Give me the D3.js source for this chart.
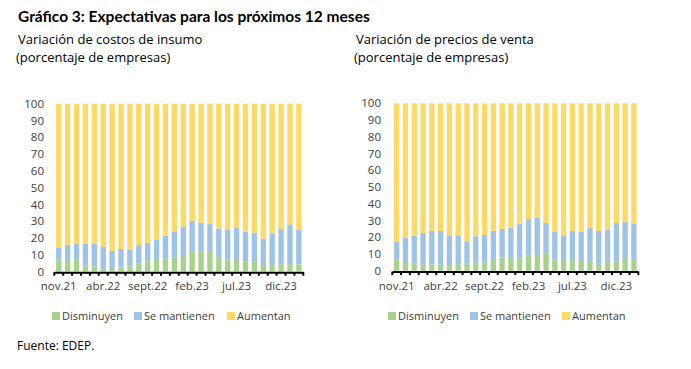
<!DOCTYPE html>
<html>
<head>
<meta charset="utf-8">
<script src="https://cdn.jsdelivr.net/npm/d3@7"></script>
<style>
  html, body { margin: 0; padding: 0; background: #fff; }
  svg { display: block; font-family: "Open Sans", Lato, sans-serif; }
</style>
</head>
<body>
<svg id="chart" width="691" height="369"></svg>
<script>
// ---- DATA ----
const months = ["nov.21","dic.21","ene.22","feb.22","mar.22","abr.22","may.22","jun.22","jul.22","ago.22",
  "sept.22","oct.22","nov.22","dic.22","ene.23","feb.23","mar.23","abr.23","may.23","jun.23",
  "jul.23","ago.23","sept.23","oct.23","nov.23","dic.23","ene.24","feb.24"];
const tickLabels = ["nov.21","abr.22","sept.22","feb.23","jul.23","dic.23"];
const seriesNames = ["Disminuyen","Se mantienen","Aumentan"];
const yTicks = [0,10,20,30,40,50,60,70,80,90,100];

// Variación de costos de insumo
const costosDisminuyen = [6.6,6.1,7.0,3.5,3.1,1.5,0.9,2.2,3.0,4.8,5.9,6.9,7.2,8.2,9.3,12.1,11.7,11.7,8.7,7.0,6.8,6.0,5.8,3.8,3.8,4.0,5.0,4.2];
const costosSeMantienen = [7.4,9.7,9.4,12.9,13.3,13.2,11.3,11.2,9.8,11.0,11.1,12.1,14.0,15.3,17.5,18.1,17.1,16.5,16.9,18.0,19.2,17.7,17.3,15.7,18.7,21.4,23.0,20.5];
const costosAumentan = [86.0,84.2,83.6,83.6,83.6,85.3,87.8,86.6,87.2,84.2,83.0,81.0,78.8,76.5,73.2,69.8,71.2,71.8,74.4,75.0,74.0,76.3,76.9,80.5,77.5,74.6,72.0,75.3];

// Variación de precios de venta
const preciosDisminuyen = [6.8,5.8,4.8,3.0,3.8,3.6,2.8,4.0,4.2,5.0,5.0,6.6,8.0,8.2,7.4,9.8,9.4,10.2,6.8,6.4,6.4,5.8,5.4,4.2,5.2,5.6,7.6,6.4];
const preciosSeMantienen = [10.4,13.8,16.0,19.6,20.0,20.2,18.4,17.2,13.4,15.6,16.4,17.2,17.0,17.6,20.5,21.1,22.1,18.3,16.4,14.4,17.4,17.4,20.1,19.6,19.2,22.9,21.7,21.5];
const preciosAumentan = [82.8,80.4,79.2,77.4,76.2,76.2,78.8,78.8,82.4,79.4,78.6,76.2,75.0,74.2,72.1,69.1,68.5,71.5,76.8,79.2,76.2,76.8,74.5,76.2,75.6,71.5,70.7,72.1];

const colors = ["#A9D18E","#9DC3E6","#FFD966"];
const axisTextColor = "#404040";

const svg = d3.select("#chart");

// Title (fit to the reference's width)
const title = svg.append("text").attr("x", 18).attr("y", 22)
  .attr("font-weight", "bold").attr("fill", "#000")
  .style("font-family", "Lato, 'Open Sans', sans-serif")
  .text("Gráfico 3: Expectativas para los próximos 12 meses");
let fs = 17;
title.attr("font-size", fs);
while (title.node().getComputedTextLength() > 355 && fs > 10) { fs -= 0.25; title.attr("font-size", fs); }

svg.append("text").attr("x", 17).attr("y", 350)
  .attr("font-size", 12).attr("fill", "#000").text("Fuente: EDEP.");

function panel(cfg) {
  const g = svg.append("g");
  g.append("text").attr("x", cfg.titleX).attr("y", 44).attr("font-size", 13).attr("fill", "#000").text(cfg.title1);
  g.append("text").attr("x", cfg.titleX - 2).attr("y", 62).attr("font-size", 13).attr("fill", "#000").text("(porcentaje de empresas)");

  const x = d3.scaleBand().domain(months).range(cfg.xRange).paddingInner(0.4).paddingOuter(0.2);
  const y = d3.scaleLinear().domain([0, 100]).range(cfg.yRange);

  const rows = months.map((m, i) => ({ m, v0: cfg.data[0][i], v1: cfg.data[1][i], v2: cfg.data[2][i] }));
  const stack = d3.stack().keys(["v0","v1","v2"])(rows);

  g.selectAll("g.layer").data(stack).join("g").attr("class","layer")
    .attr("fill", (d, i) => colors[i])
    .selectAll("rect").data(d => d).join("rect")
    .attr("x", d => x(d.data.m))
    .attr("width", x.bandwidth())
    .attr("y", d => y(d[1]))
    .attr("height", d => y(d[0]) - y(d[1]));

  // y axis labels
  const ya = g.append("g").attr("transform", `translate(${cfg.yLabelX},0)`)
    .call(d3.axisLeft(y).tickValues(yTicks).tickSize(0).tickPadding(0));
  ya.select(".domain").remove();
  ya.selectAll("text").attr("font-size", 11.5).attr("fill", axisTextColor).attr("font-family", "Open Sans, sans-serif");

  // x axis
  const axisY = cfg.yRange[0] + 0.8;
  const xa = g.append("g").attr("transform", `translate(0,${axisY})`)
    .call(d3.axisBottom(x).tickValues(tickLabels).tickSize(0).tickPadding(10));
  xa.select(".domain").attr("stroke", "#000").attr("stroke-width", 2);
  xa.selectAll("text").attr("font-size", 11.5).attr("fill", axisTextColor).attr("font-family", "Open Sans, sans-serif");

  // boundary tick marks
  const step = x.step();
  const bounds = d3.range(months.length + 1);
  g.append("g").selectAll("line").data(bounds).join("line")
    .attr("x1", i => cfg.xRange[0] + i * step)
    .attr("x2", i => cfg.xRange[0] + i * step)
    .attr("y1", axisY).attr("y2", axisY + 3.5)
    .attr("stroke", "#000").attr("stroke-width", 2);

  // legend
  const lg = g.append("g");
  seriesNames.forEach((n, i) => {
    const lx = cfg.legendX[i];
    lg.append("rect").attr("x", lx).attr("y", 312).attr("width", 8).attr("height", 8).attr("fill", colors[i]);
    lg.append("text").attr("x", lx + 10).attr("y", 320).attr("font-size", 11).attr("fill", axisTextColor).text(n);
  });
}

panel({
  title1: "Variación de costos de insumo", titleX: 18,
  xRange: [54.3, 303.3], yRange: [271.4, 103.7], yLabelX: 44,
  data: [costosDisminuyen, costosSeMantienen, costosAumentan],
  legendX: [52, 134, 227]
});
panel({
  title1: "Variación de precios de venta", titleX: 356,
  xRange: [392.3, 638.3], yRange: [270.8, 103.3], yLabelX: 381,
  data: [preciosDisminuyen, preciosSeMantienen, preciosAumentan],
  legendX: [388, 470, 562]
});
</script>
</body>
</html>
